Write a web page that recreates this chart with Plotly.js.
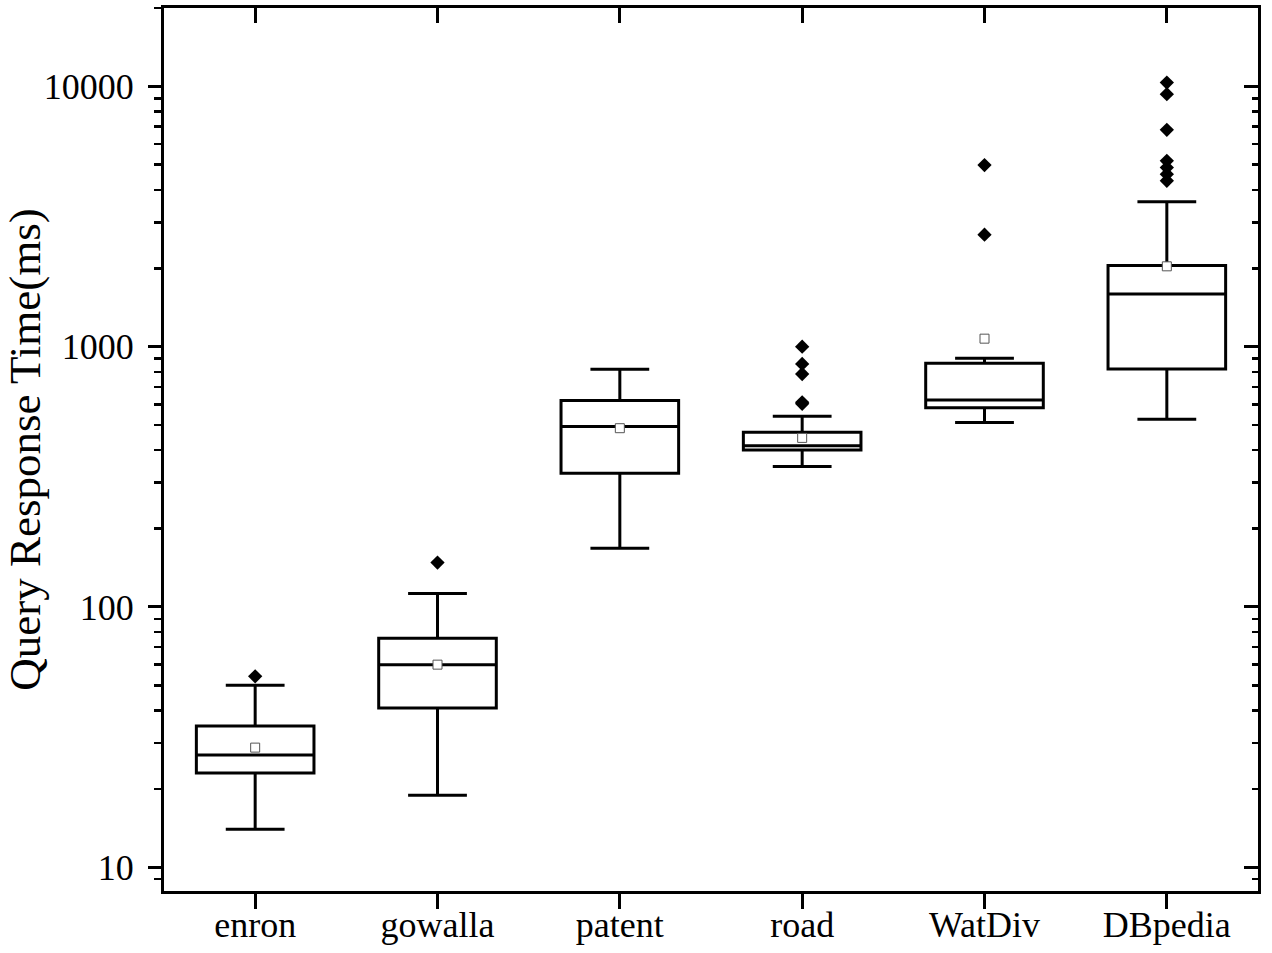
<!DOCTYPE html>
<html>
<head>
<meta charset="utf-8">
<script src="https://cdn.plot.ly/plotly-3.0.1.min.js"></script>
<style>html,body{margin:0;padding:0;background:#fff;}#chart{width:1272px;height:953px;}</style>
</head>
<body>
<div id="chart"></div>
<script>
// ---- data ----
const categories = ["enron", "gowalla", "patent", "road", "WatDiv", "DBpedia"];
const lowerWhisker = [14.0, 18.9, 168, 346, 511, 526];
const q1Values     = [23.0, 40.9, 326, 401, 582, 821];
const medianValues = [27.0, 60.0, 493, 416, 624, 1594];
const q3Values     = [34.9, 75.7, 621, 469, 863, 2052];
const upperWhisker = [50.0, 112.7, 818, 540, 902, 3603];
const meanValues   = [28.8, 60.0, 486, 446, 1073, 2035];
const outlierCategory = ["enron", "gowalla", "road", "road", "road", "road", "road",
  "WatDiv", "WatDiv", "DBpedia", "DBpedia", "DBpedia", "DBpedia", "DBpedia", "DBpedia", "DBpedia"];
const outlierValues = [54.1, 148, 1000, 858, 785, 611, 603,
  4983, 2692, 10340, 9330, 6810, 5176, 4875, 4600, 4338];
const yTickValues = [10, 100, 1000, 10000];
const yTickLabels = ["10", "100", "1000", "10000"];

const FONT = "'Liberation Serif', 'Times New Roman', serif";
const traces = [];

traces.push({
  type: "box",
  x: categories,
  q1: q1Values,
  median: medianValues,
  q3: q3Values,
  lowerfence: lowerWhisker,
  upperfence: upperWhisker,
  boxpoints: false,
  width: 0.645,
  whiskerwidth: 0.5,
  line: {color: "#000", width: 3},
  fillcolor: "rgba(255,255,255,0)",
  showlegend: false,
  hoverinfo: "skip"
});

traces.push({
  type: "scatter", mode: "markers",
  x: outlierCategory, y: outlierValues,
  marker: {symbol: "diamond", size: 11, color: "#000", line: {width: 0}},
  showlegend: false, hoverinfo: "skip"
});

traces.push({
  type: "scatter", mode: "markers",
  x: categories, y: meanValues,
  marker: {symbol: "square", size: 9, color: "#fff", line: {color: "#555", width: 1}},
  showlegend: false, hoverinfo: "skip"
});

// dummy trace so mirrored axes (top/right) are drawn
traces.push({
  type: "scatter", mode: "markers", x: [null], y: [null],
  xaxis: "x2", yaxis: "y2", showlegend: false, hoverinfo: "skip"
});

const yRange = [Math.log10(8.1), Math.log10(20000)];
const xRange = [-0.5, 5.5];

const layout = {
  width: 1272, height: 953,
  margin: {l: 164, r: 14, t: 8, b: 62},
  paper_bgcolor: "#fff", plot_bgcolor: "#fff",
  font: {family: FONT, color: "#000", size: 36},
  showlegend: false,
  xaxis: {
    type: "category", range: xRange,
    categoryorder: "array", categoryarray: categories,
    showgrid: false, zeroline: false,
    showline: true, linecolor: "#000", linewidth: 3,
    ticks: "outside", ticklen: 15, tickwidth: 3, tickcolor: "#000",
    tickfont: {family: FONT, size: 36, color: "#000"},
    ticklabelstandoff: -15,
    automargin: false
  },
  xaxis2: {
    type: "linear", range: xRange, overlaying: "x", side: "top", anchor: "y2",
    tickvals: [0, 1, 2, 3, 4, 5], showticklabels: false,
    showgrid: false, zeroline: false,
    showline: true, linecolor: "#000", linewidth: 3,
    ticks: "inside", ticklen: 15, tickwidth: 3, tickcolor: "#000"
  },
  yaxis: {
    type: "log", range: yRange,
    tickvals: yTickValues, ticktext: yTickLabels,
    showgrid: false, zeroline: false,
    showline: true, linecolor: "#000", linewidth: 3,
    ticks: "outside", ticklen: 13, tickwidth: 3, tickcolor: "#000",
    tickfont: {family: FONT, size: 36, color: "#000"},
    ticklabelstandoff: 7,
    minor: {dtick: "D1", ticks: "outside", ticklen: 7, tickwidth: 2.5, tickcolor: "#000", showgrid: false},
    title: {text: "Query Response Time(ms)", font: {family: FONT, size: 45, color: "#000"}, standoff: 0},
    automargin: false
  },
  yaxis2: {
    type: "log", range: yRange, overlaying: "y", side: "right", anchor: "x2",
    tickvals: yTickValues, showticklabels: false,
    showgrid: false, zeroline: false,
    showline: true, linecolor: "#000", linewidth: 3,
    ticks: "inside", ticklen: 14, tickwidth: 3, tickcolor: "#000",
    minor: {dtick: "D1", ticks: "inside", ticklen: 6, tickwidth: 2.5, tickcolor: "#000", showgrid: false}
  }
};

Plotly.newPlot("chart", traces, layout, {displayModeBar: false, staticPlot: true});
</script>
</body>
</html>
